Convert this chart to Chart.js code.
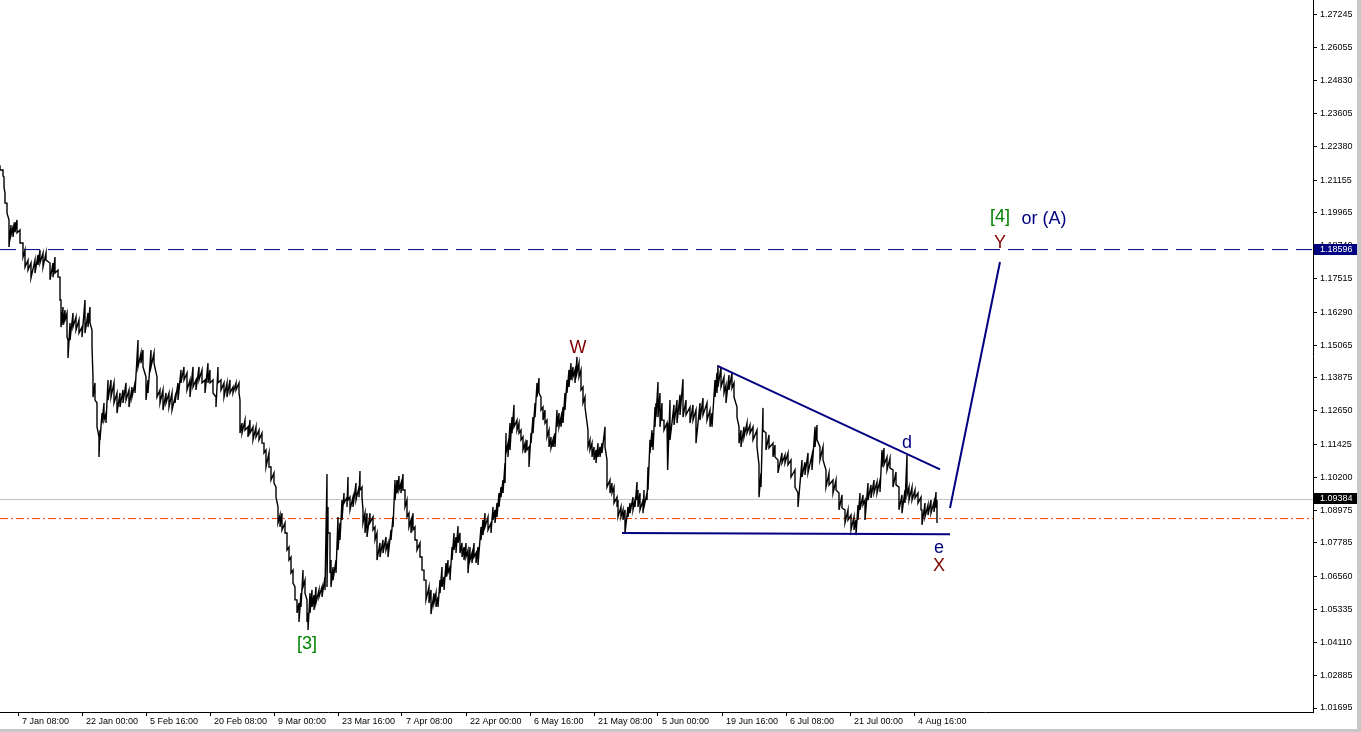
<!DOCTYPE html>
<html>
<head>
<meta charset="utf-8">
<script src="https://cdn.jsdelivr.net/npm/chart.js@4.4.1/dist/chart.umd.min.js"></script>
<style>
    body { margin: 0; background: #c8c8c8; }
    #chart { display: block; background: #fff; }
</style>
</head>
<body>
<canvas id="chart" width="1357" height="729"></canvas>
<script>
// Bar positions (chart bar index) with the high and low
const barIndex = [
    0,3,4,5,7,9,11,13,15,17,20,23,25,28,31,35,38,40,43,46,50,53,55,58,60,61,63,65,67,68,
    70,73,76,79,82,85,88,90,92,93,95,97,99,100,102,104,106,108,111,114,117,120,123,126,129,132,135,138,141,143,
    146,148,151,154,157,160,163,166,169,172,175,178,181,184,187,190,193,196,199,202,205,208,210,213,216,218,221,224,227,230,
    233,236,239,240,
    242,245,248,250,253,256,259,262,264,266,269,271,274,276,278,280,282,285,287,289,
    291,293,295,297,299,301,303,305,307,308,310,312,314,316,319,322,325,327,328,330,
    331,333,336,338,340,342,344,347,348,350,353,356,359,360,362,363,365,367,370,373,
    375,377,380,383,386,388,391,393,395,397,399,401,403,405,407,409,411,413,415,417,
    420,422,424,426,429,431,434,436,438,440,442,444,446,448,450,452,454,456,458,460,
    462,464,466,468,470,472,474,476,478,
    481,483,485,488,491,493,495,497,499,501,503,505,506,508,510,512,514,517,519,521,
    523,525,527,529,531,533,535,537,539,541,543,545,547,549,551,553,555,557,559,561,
    563,565,567,569,571,573,575,577,579,581,583,585,588,590,592,594,596,598,600,602,
    605,607,610,612,614,617,618,621,623,625,628,630,633,635,637,638,640,643,644,647,
    648,650,652,653,655,656,658,660,662,664,667,668,670,674,677,680,683,686,690,693,
    696,700,703,707,710,712,715,717,718,
    721,724,726,729,732,734,737,739,741,744,747,750,753,757,759,761,763,766,769,773,
    775,778,782,785,788,791,795,798,802,805,808,812,815,817,820,823,826,829,833,836,
    839,842,845,848,851,854,856,858,860,863,865,868,871,874,877,880,882,884,887,890,
    893,896,899,902,905,907,909,912,915,918,921,922,925,928,931,934,936,937
];

const highs = [
    1.2171,1.2153,1.2127,1.2068,1.2031,1.1969,1.1950,1.1943,1.1961,1.1969,
    1.1932,1.1884,1.1858,1.1821,1.1810,1.1821,1.1840,1.1858,1.1847,1.1847,
    1.1810,1.1810,1.1832,1.1784,1.1758,1.1674,1.1648,1.1637,1.1626,1.1526,
    1.1589,1.1626,1.1611,1.1600,1.1574,1.1674,1.1626,1.1648,1.1563,1.1390,
    1.1368,1.1294,1.1169,1.1194,1.1257,1.1294,1.1257,1.1379,1.1379,1.1368,
    1.1331,1.1331,1.1342,1.1368,1.1342,1.1353,1.1368,1.1526,1.1478,1.1489,
    1.1390,1.1379,1.1489,1.1478,1.1390,1.1342,1.1342,1.1331,1.1331,1.1331,
    1.1316,1.1368,1.1416,1.1427,1.1405,1.1379,1.1427,1.1379,1.1427,1.1416,
    1.1379,1.1441,1.1416,1.1379,1.1316,1.1427,1.1379,1.1368,1.1368,1.1379,
    1.1353,1.1368,1.1368,1.1305,
    1.1220,1.1231,1.1206,1.1231,1.1206,1.1206,1.1194,1.1183,1.1146,1.1121,
    1.1110,1.1058,1.1036,1.0984,1.0911,1.0881,1.0888,1.0852,1.0815,1.0763,
    1.0726,1.0678,1.0616,1.0568,1.0557,1.0593,1.0678,1.0641,1.0568,1.0520,
    1.0593,1.0605,1.0586,1.0616,1.0605,1.0616,1.0653,1.1032,1.0911,1.0815,
    1.0715,1.0689,1.0715,1.0874,1.0852,1.0936,1.0962,1.0947,1.1021,1.0947,
    1.0947,1.0999,1.0984,1.1043,1.0984,1.0900,1.0888,1.0888,1.0888,1.0874,
    1.0837,1.0815,1.0778,1.0789,1.0800,1.0778,1.0826,1.0874,1.1010,1.1010,
    1.1025,1.0999,1.1032,1.0973,1.0936,1.0888,1.0863,1.0888,1.0837,1.0789,
    1.0778,1.0726,1.0678,1.0641,1.0616,1.0605,1.0593,1.0593,1.0579,1.0641,
    1.0689,1.0653,1.0704,1.0715,1.0689,1.0763,1.0815,1.0800,1.0840,1.0815,
    1.0778,1.0763,1.0778,1.0752,1.0763,1.0741,1.0778,1.0741,1.0763,
    1.0837,1.0863,1.0888,1.0874,1.0852,1.0911,1.0900,1.0925,1.0962,1.0984,
    1.1010,1.1073,1.1183,1.1146,1.1220,1.1242,1.1287,1.1231,1.1220,1.1194,
    1.1169,1.1146,1.1158,1.1132,1.1183,1.1242,1.1294,1.1368,1.1386,1.1316,
    1.1279,1.1268,1.1231,1.1194,1.1169,1.1158,1.1183,1.1268,1.1257,1.1242,
    1.1279,1.1331,1.1379,1.1416,1.1441,1.1427,1.1416,1.1464,1.1441,1.1416,
    1.1353,1.1316,1.1194,1.1158,1.1146,1.1132,1.1121,1.1146,1.1132,1.1146,
    1.1206,1.1084,1.1010,1.0999,1.0984,1.0947,1.0936,1.0911,1.0900,1.0900,
    1.0911,1.0925,1.0947,1.0936,1.1003,1.0973,1.0962,1.0936,1.0973,1.0962,
    1.1058,1.1158,1.1194,1.1183,1.1279,1.1294,1.1371,1.1331,1.1294,1.1231,
    1.1220,1.1158,1.1305,1.1287,1.1305,1.1324,1.1382,1.1305,1.1279,1.1287,
    1.1268,1.1294,1.1312,1.1294,1.1268,1.1257,1.1379,1.1405,1.1434,
    1.1427,1.1390,1.1360,1.1397,1.1405,1.1368,1.1279,1.1206,1.1194,1.1206,
    1.1220,1.1213,1.1206,1.1194,1.1066,1.1036,1.1276,1.1183,1.1176,1.1146,
    1.1139,1.1084,1.1110,1.1102,1.1110,1.1084,1.1047,1.0962,1.1084,1.1076,
    1.1110,1.1102,1.1206,1.1213,1.1132,1.1132,1.1047,1.1036,1.1010,1.1010,
    1.0962,1.0955,1.0900,1.0900,1.0881,1.0874,1.0863,1.0918,1.0962,1.0955,
    1.0936,1.0999,1.0992,1.1010,1.1003,1.1010,1.1121,1.1128,1.1095,1.1091,
    1.1047,1.1040,1.0984,1.0955,1.0973,1.1102,1.0984,1.0984,1.0973,1.0962,
    1.0947,1.0900,1.0925,1.0918,1.0936,1.0929,1.0966,1.0936
];

const lows = [
    1.2153,1.2131,1.2090,1.2031,1.1994,1.1869,1.1913,1.1906,1.1924,1.1921,
    1.1884,1.1832,1.1795,1.1784,1.1755,1.1773,1.1803,1.1810,1.1795,1.1821,
    1.1748,1.1758,1.1773,1.1758,1.1674,1.1574,1.1582,1.1600,1.1537,1.1460,
    1.1526,1.1574,1.1563,1.1552,1.1537,1.1552,1.1574,1.1589,1.1500,1.1316,
    1.1305,1.1206,1.1095,1.1158,1.1220,1.1231,1.1220,1.1305,1.1316,1.1294,
    1.1257,1.1279,1.1294,1.1305,1.1279,1.1316,1.1331,1.1427,1.1441,1.1427,
    1.1305,1.1331,1.1427,1.1441,1.1316,1.1294,1.1268,1.1294,1.1279,1.1268,
    1.1294,1.1305,1.1368,1.1379,1.1342,1.1316,1.1353,1.1342,1.1379,1.1368,
    1.1331,1.1368,1.1368,1.1331,1.1279,1.1368,1.1342,1.1316,1.1316,1.1331,
    1.1331,1.1342,1.1331,1.1183,
    1.1183,1.1194,1.1169,1.1183,1.1158,1.1169,1.1158,1.1146,1.1110,1.1058,
    1.1058,1.1010,1.0999,1.0947,1.0852,1.0837,1.0826,1.0815,1.0752,1.0715,
    1.0667,1.0630,1.0568,1.0520,1.0487,1.0542,1.0616,1.0593,1.0487,1.0457,
    1.0520,1.0542,1.0531,1.0557,1.0579,1.0579,1.0605,1.0616,1.0815,1.0667,
    1.0616,1.0641,1.0667,1.0752,1.0789,1.0863,1.0925,1.0911,1.0936,1.0900,
    1.0911,1.0936,1.0947,1.0973,1.0947,1.0852,1.0815,1.0800,1.0852,1.0826,
    1.0789,1.0715,1.0726,1.0741,1.0752,1.0726,1.0789,1.0837,1.0936,1.0962,
    1.0973,1.0962,1.0973,1.0911,1.0874,1.0837,1.0815,1.0826,1.0789,1.0752,
    1.0726,1.0678,1.0641,1.0568,1.0557,1.0516,1.0557,1.0542,1.0542,1.0593,
    1.0616,1.0605,1.0653,1.0667,1.0641,1.0715,1.0752,1.0741,1.0778,1.0741,
    1.0726,1.0715,1.0726,1.0667,1.0715,1.0704,1.0726,1.0704,1.0697,
    1.0789,1.0807,1.0837,1.0826,1.0815,1.0863,1.0852,1.0874,1.0911,1.0947,
    1.0962,1.0999,1.1110,1.1095,1.1121,1.1183,1.1206,1.1194,1.1183,1.1158,
    1.1121,1.1110,1.1121,1.1058,1.1146,1.1183,1.1242,1.1316,1.1331,1.1268,
    1.1231,1.1220,1.1169,1.1132,1.1128,1.1132,1.1132,1.1206,1.1206,1.1206,
    1.1220,1.1268,1.1331,1.1353,1.1379,1.1390,1.1368,1.1405,1.1390,1.1342,
    1.1294,1.1279,1.1132,1.1121,1.1095,1.1084,1.1073,1.1095,1.1095,1.1110,
    1.1132,1.0984,1.0962,1.0962,1.0925,1.0911,1.0874,1.0874,1.0863,1.0815,
    1.0874,1.0888,1.0900,1.0911,1.0936,1.0911,1.0900,1.0888,1.0911,1.0936,
    1.0973,1.1110,1.1132,1.1121,1.1206,1.1242,1.1242,1.1206,1.1231,1.1194,
    1.1158,1.1047,1.1158,1.1213,1.1220,1.1250,1.1242,1.1250,1.1220,1.1231,
    1.1146,1.1231,1.1250,1.1231,1.1206,1.1206,1.1316,1.1331,1.1353,
    1.1353,1.1331,1.1294,1.1342,1.1349,1.1316,1.1242,1.1146,1.1132,1.1169,
    1.1183,1.1183,1.1158,1.1132,1.0947,1.0984,1.1194,1.1121,1.1128,1.1095,
    1.1095,1.1036,1.1073,1.1073,1.1066,1.1021,1.0984,1.0911,1.1021,1.1029,
    1.1036,1.1047,1.1132,1.1158,1.1084,1.1084,1.0984,1.0992,1.0962,1.0973,
    1.0900,1.0907,1.0852,1.0863,1.0826,1.0826,1.0807,1.0863,1.0900,1.0918,
    1.0863,1.0936,1.0944,1.0962,1.0962,1.0966,1.1058,1.1066,1.1047,1.1054,
    1.0984,1.0992,1.0900,1.0888,1.0925,1.0955,1.0936,1.0936,1.0944,1.0925,
    1.0900,1.0845,1.0874,1.0881,1.0888,1.0892,1.0907,1.0852
];

// Axis labels
const dateLabels = ["7 Jan 08:00", "22 Jan 00:00", "5 Feb 16:00", "20 Feb 08:00", "9 Mar 00:00",
    "23 Mar 16:00", "7 Apr 08:00", "22 Apr 00:00", "6 May 16:00", "21 May 08:00", "5 Jun 00:00",
    "19 Jun 16:00", "6 Jul 08:00", "21 Jul 00:00", "4 Aug 16:00"];
const dateBars = [18, 82, 146, 210, 274, 338, 402, 466, 530, 594, 658, 722, 786, 850, 914];
const priceTicks = [1.27245, 1.26055, 1.24830, 1.23605, 1.22380, 1.21155, 1.19965, 1.18740,
    1.17515, 1.16290, 1.15065, 1.13875, 1.12650, 1.11425, 1.10200, 1.08975, 1.07785,
    1.06560, 1.05335, 1.04110, 1.02885, 1.01695];

// Horizontal levels
const resistancePrice = 1.18596;
const bidPrice = 1.09384;
const pivotPrice = 1.0868;

// Trend lines (bar, price)
const upperBars = [718, 940], upperPrices = [1.1430, 1.1049];
const lowerBars = [622, 950], lowerPrices = [1.0815, 1.0810];
const projectionBars = [950, 1000], projectionPrices = [1.0907, 1.1814];

// Wave labels
const waveText = ["[3]", "W", "d", "e", "X", "Y", "[4]", "or (A)"];
const waveBars = [307, 578, 907, 939, 939, 1000, 1000, 1044];
const wavePrices = [1.0405, 1.1497, 1.1147, 1.0759, 1.0693, 1.1884, 1.1980, 1.1972];
const waveColors = ["#008000", "#800000", "#000080", "#000080", "#800000", "#800000", "#008000", "#000080"];

const X_MAX = 1313;

// Each bar goes high -> low, then the path climbs to the next bar's high,
// which fills the band the way the dense bar chart does
function buildPricePath() {
    let points = [];
    let n = Math.min(barIndex.length, highs.length, lows.length);
    for (let i = 0; i < n; i++) {
        points.push({ x: barIndex[i], y: highs[i] }, { x: barIndex[i], y: lows[i] });
    }
    return points;
}

function levelLine(price, color, dash, order) {
    return {
        data: [{ x: 0, y: price }, { x: X_MAX, y: price }],
        borderColor: color,
        borderWidth: 1,
        borderDash: dash,
        pointRadius: 0,
        order: order,
    };
}

function trendLine(bars, prices) {
    return {
        data: bars.map((b, i) => ({ x: b, y: prices[i] })),
        borderColor: "#000080",
        borderWidth: 2,
        pointRadius: 0,
        order: 0,
    };
}

function zeroPadding(scale) {
    scale.paddingLeft = 0;
    scale.paddingRight = 0;
    scale.paddingTop = 0;
    scale.paddingBottom = 0;
}

const waveLabelsPlugin = {
    id: "waveLabels",
    afterDatasetsDraw(chart) {
        const ctx = chart.ctx;
        const xs = chart.scales.x, ys = chart.scales.y;
        ctx.save();
        ctx.font = "18px 'Liberation Sans', Arial, sans-serif";
        ctx.textAlign = "center";
        ctx.textBaseline = "middle";
        waveText.forEach((t, i) => {
            ctx.fillStyle = waveColors[i];
            ctx.fillText(t, xs.getPixelForValue(waveBars[i]), ys.getPixelForValue(wavePrices[i]));
        });
        ctx.restore();
    }
};

const priceTagsPlugin = {
    id: "priceTags",
    afterDraw(chart) {
        const ctx = chart.ctx;
        const ys = chart.scales.y;
        const tags = [
            { price: resistancePrice, bg: "#000080" },
            { price: bidPrice, bg: "#000000" },
        ];
        ctx.save();
        ctx.font = "9px 'Liberation Sans', Arial, sans-serif";
        ctx.textBaseline = "middle";
        ctx.textAlign = "left";
        tags.forEach((tag) => {
            let y = Math.round(ys.getPixelForValue(tag.price));
            ctx.fillStyle = tag.bg;
            ctx.fillRect(ys.left + 1, y - 6, 43, 11);
            ctx.fillStyle = "#ffffff";
            ctx.fillText(tag.price.toFixed(5), ys.left + 7, y);
        });
        ctx.restore();
    }
};

Chart.defaults.font.family = "'Liberation Sans', Arial, sans-serif";
Chart.defaults.font.size = 9;
Chart.defaults.color = "#000";

new Chart(document.getElementById("chart"), {
    type: "line",
    data: {
        datasets: [
            {
                data: buildPricePath(),
                borderColor: "#000000",
                borderWidth: 1.4,
                pointRadius: 0,
                tension: 0,
                order: 1,
            },
            levelLine(bidPrice, "#c0c0c0", [], 3),
            levelLine(pivotPrice, "#ff4500", [8, 3, 2, 3], 3),
            levelLine(resistancePrice, "#000080", [16, 8], 2),
            trendLine(upperBars, upperPrices),
            trendLine(lowerBars, lowerPrices),
            trendLine(projectionBars, projectionPrices),
        ],
    },
    options: {
        responsive: false,
        animation: false,
        events: [],
        layout: { padding: 0 },
        plugins: {
            legend: { display: false },
            tooltip: { enabled: false },
        },
        scales: {
            x: {
                type: "linear",
                min: 0,
                max: X_MAX,
                afterBuildTicks: (scale) => {
                    scale.ticks = dateBars.map((v) => ({ value: v }));
                },
                afterFit: (scale) => {
                    scale.height = 17;
                    zeroPadding(scale);
                },
                ticks: {
                    autoSkip: false,
                    maxRotation: 0,
                    align: "start",
                    labelOffset: 4,
                    padding: 0,
                    callback: (value, index) => dateLabels[index],
                },
                grid: { drawOnChartArea: false, drawTicks: true, tickLength: 4, color: "#000" },
                border: { display: true, color: "#000" },
            },
            y: {
                type: "linear",
                position: "right",
                min: 1.01548,
                max: 1.27798,
                afterBuildTicks: (scale) => {
                    scale.ticks = priceTicks.map((v) => ({ value: v }));
                },
                afterFit: (scale) => {
                    scale.width = 44;
                    zeroPadding(scale);
                },
                ticks: {
                    padding: 3,
                    callback: (value) => value.toFixed(5),
                },
                grid: { drawOnChartArea: false, drawTicks: true, tickLength: 4, color: "#000" },
                border: { display: true, color: "#000" },
            },
        },
    },
    plugins: [waveLabelsPlugin, priceTagsPlugin],
});
</script>
</body>
</html>
